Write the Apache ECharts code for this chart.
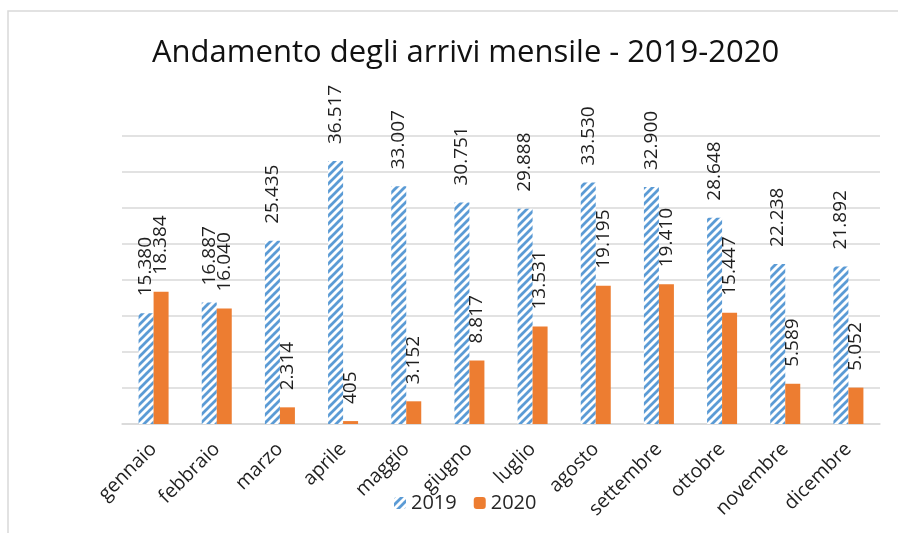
<!DOCTYPE html>
<html>
<head>
<meta charset="utf-8">
<script src="https://cdn.jsdelivr.net/npm/echarts@6/dist/echarts.min.js"></script>
<style>html,body{margin:0;padding:0;background:#fff;}#c{width:898px;height:533px;}</style>
</head>
<body>
<div id="c"></div>
<script>
const categories = ['gennaio','febbraio','marzo','aprile','maggio','giugno','luglio','agosto','settembre','ottobre','novembre','dicembre'];
const values2019 = [15380, 16887, 25435, 36517, 33007, 30751, 29888, 33530, 32900, 28648, 22238, 21892];
const values2020 = [18384, 16040, 2314, 405, 3152, 8817, 13531, 19195, 19410, 15447, 5589, 5052];
const seriesNames = ['2019', '2020'];

function fmt(v){ return String(v).replace(/\B(?=(\d{3})+(?!\d))/g, '.'); }

function makePattern(){
  const s = 8;
  const c = document.createElement('canvas');
  c.width = s; c.height = s;
  const ctx = c.getContext('2d');
  ctx.fillStyle = '#ffffff';
  ctx.fillRect(0,0,s,s);
  ctx.strokeStyle = '#5B9BD5';
  ctx.lineWidth = 2.8;
  ctx.beginPath();
  ctx.moveTo(-1, s+1); ctx.lineTo(s+1, -1);
  ctx.moveTo(-2, 2); ctx.lineTo(2, -2);
  ctx.moveTo(s-2, s+2); ctx.lineTo(s+2, s-2);
  ctx.stroke();
  return c;
}

const chart = echarts.init(document.getElementById('c'), null, {renderer:'canvas', devicePixelRatio:1});
const labelCfg = {
  show: true, position: 'top', rotate: 90, align: 'left', verticalAlign: 'middle',
  distance: 17, fontSize: 19, color: '#1f1f1f', fontFamily: 'Open Sans',
  formatter: p => fmt(p.value)
};
chart.setOption({
  animation: false,
  backgroundColor: '#ffffff',
  textStyle: {fontFamily: 'Open Sans'},
  title: {
    text: 'Andamento degli arrivi mensile - 2019-2020',
    left: 147, top: 33,
    textStyle: {fontFamily: 'Open Sans', fontSize: 31, fontWeight: 'normal', color: '#111'}
  },
  graphic: [{
    type: 'rect', shape: {x: 8, y: 11, width: 900, height: 540},
    style: {fill: 'none', stroke: '#d9d9d9', lineWidth: 1.5}, silent: true
  }],
  legend: {
    data: seriesNames, left: 389, top: 488, itemWidth: 12, itemHeight: 12, itemGap: 17,
    textStyle: {fontFamily: 'Open Sans', fontSize: 20, color: '#262626'}
  },
  grid: {left: 122, right: 18, top: 136, bottom: 109},
  xAxis: {
    type: 'category', data: categories,
    axisLine: {lineStyle: {color: '#d9d9d9', width: 1.5}},
    axisTick: {show: false},
    axisLabel: {rotate: 45, interval: 0, fontSize: 19.5, color: '#1f1f1f', margin: 22, fontFamily: 'Open Sans'}
  },
  yAxis: {
    type: 'value', min: 0, max: 40000, interval: 5000,
    axisLabel: {show: false}, axisLine: {show: false}, axisTick: {show: false},
    splitLine: {lineStyle: {color: '#d9d9d9', width: 1.5}}
  },
  series: [
    {name: seriesNames[0], type: 'bar', data: values2019, barWidth: 15, barGap: '0%',
     itemStyle: {color: {image: makePattern(), repeat: 'repeat'}}, label: labelCfg},
    {name: seriesNames[1], type: 'bar', data: values2020, barWidth: 15,
     itemStyle: {color: '#ED7D31'}, label: labelCfg}
  ]
});
</script>
</body>
</html>
